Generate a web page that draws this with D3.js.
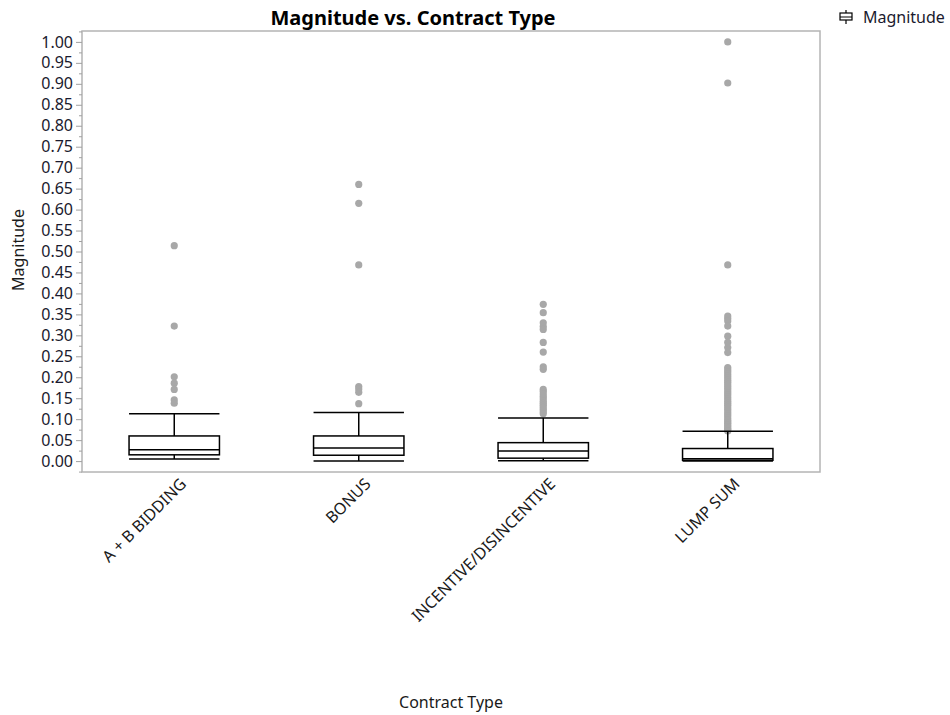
<!DOCTYPE html>
<html>
<head>
<meta charset="utf-8">
<script src="https://cdn.jsdelivr.net/npm/d3@7"></script>
<style>
  html, body { margin: 0; padding: 0; background: #fff; }
  svg { display: block; font-family: "Noto Sans", "Open Sans", sans-serif; }
</style>
</head>
<body>
<svg id="chart" width="950" height="715"></svg>
<script>
// ---------------- data ----------------
const categories = ["A + B BIDDING", "BONUS", "INCENTIVE/DISINCENTIVE", "LUMP SUM"];
const whiskerLow  = [0.005, 0.000, 0.001, 0.000];
const q1          = [0.015, 0.014, 0.007, 0.002];
const median      = [0.027, 0.031, 0.024, 0.0055];
const q3          = [0.060, 0.060, 0.044, 0.030];
const whiskerHigh = [0.113, 0.116, 0.103, 0.071];
const outliersAB = [0.514, 0.322, 0.201, 0.186, 0.171, 0.146, 0.138];
const outliersBonus = [0.660, 0.615, 0.468, 0.178, 0.172, 0.164, 0.137];
const outliersIncentive = [0.374, 0.354, 0.330, 0.321, 0.314, 0.283, 0.260, 0.225, 0.219,
  0.171, 0.166, 0.160, 0.154, 0.149, 0.143, 0.138, 0.133, 0.128, 0.123, 0.118, 0.113];
const outliersLump = [1.000, 0.902, 0.468, 0.346, 0.340, 0.334, 0.322, 0.298, 0.283, 0.271, 0.259,
  0.223, 0.218, 0.213, 0.208, 0.203, 0.198, 0.193, 0.188, 0.183, 0.178, 0.173, 0.168, 0.163,
  0.158, 0.153, 0.148, 0.143, 0.138, 0.133, 0.128, 0.123, 0.118, 0.113, 0.108, 0.103, 0.098,
  0.094, 0.090, 0.086, 0.082, 0.078, 0.075, 0.072];
const outliers = [outliersAB, outliersBonus, outliersIncentive, outliersLump];
const yTickValues = [0, 0.05, 0.10, 0.15, 0.20, 0.25, 0.30, 0.35, 0.40, 0.45, 0.50,
  0.55, 0.60, 0.65, 0.70, 0.75, 0.80, 0.85, 0.90, 0.95, 1.00];
const yMinorTicks = [-0.025, 0.025, 0.075, 0.125, 0.175, 0.225, 0.275, 0.325, 0.375, 0.425, 0.475,
  0.525, 0.575, 0.625, 0.675, 0.725, 0.775, 0.825, 0.875, 0.925, 0.975, 1.025];
const chartTitle = "Magnitude vs. Contract Type";
const xTitle = "Contract Type";
const yTitle = "Magnitude";
const legendLabel = "Magnitude";

// ---------------- layout ----------------
const plot = { left: 82, right: 820, top: 31, bottom: 472 };
const svg = d3.select("#chart");

const x = d3.scaleBand().domain(categories).range([plot.left, plot.right]).padding(0);
const y = d3.scaleLinear().domain([-0.026, 1.026]).range([plot.bottom, plot.top]);

const boxes = categories.map((c, i) => ({
  cat: c, lo: whiskerLow[i], q1: q1[i], med: median[i], q3: q3[i], hi: whiskerHigh[i], out: outliers[i]
}));

// plot frame
svg.append("rect")
  .attr("x", plot.left).attr("y", plot.top)
  .attr("width", plot.right - plot.left).attr("height", plot.bottom - plot.top)
  .attr("fill", "none").attr("stroke", "#b4b4b4").attr("stroke-width", 1.5);

// y axis
const yAxis = d3.axisLeft(y).tickValues(yTickValues).tickFormat(d3.format(".2f")).tickSize(6).tickPadding(3);
const yg = svg.append("g").attr("transform", `translate(${plot.left},0)`).call(yAxis);
yg.select(".domain").remove();
yg.selectAll(".tick line").attr("stroke", "#a0a0a0");
yg.selectAll(".tick text").attr("font-size", 16).attr("fill", "#1a1a2e")
  .attr("font-family", "'Noto Sans', sans-serif");
const yMinor = d3.axisLeft(y).tickValues(yMinorTicks).tickSize(3).tickFormat("");
const ymg = svg.append("g").attr("transform", `translate(${plot.left},0)`).call(yMinor);
ymg.select(".domain").remove();
ymg.selectAll(".tick line").attr("stroke", "#a0a0a0");

// x axis labels
const xAxis = d3.axisBottom(x).tickSize(0).tickPadding(0);
const xg = svg.append("g").attr("transform", `translate(0,${plot.bottom})`).call(xAxis);
xg.select(".domain").remove();
xg.selectAll(".tick text")
  .attr("font-size", 16).attr("fill", "#1a1a1a")
  .attr("font-family", "'Noto Sans', sans-serif")
  .attr("text-anchor", "end")
  .attr("dy", 0)
  .attr("transform", "translate(13,13) rotate(-45)");

// boxes
const bw = x.bandwidth() * 0.49;
const g = svg.append("g");
boxes.forEach(b => {
  const cx = x(b.cat) + x.bandwidth() / 2;
  const gg = g.append("g");
  // outliers
  gg.selectAll("circle").data(b.out).join("circle")
    .attr("cx", cx).attr("cy", d => y(d)).attr("r", 3.6).attr("fill", "#a8a8a8");
  // whiskers
  gg.append("line").attr("x1", cx).attr("x2", cx).attr("y1", y(b.q3)).attr("y2", y(b.hi))
    .attr("stroke", "#000").attr("stroke-width", 1.5);
  gg.append("line").attr("x1", cx).attr("x2", cx).attr("y1", y(b.q1)).attr("y2", y(b.lo))
    .attr("stroke", "#000").attr("stroke-width", 1.5);
  [b.hi, b.lo].forEach(v => {
    gg.append("line").attr("x1", cx - bw / 2).attr("x2", cx + bw / 2).attr("y1", y(v)).attr("y2", y(v))
      .attr("stroke", "#000").attr("stroke-width", 1.5);
  });
  gg.append("rect").attr("x", cx - bw / 2).attr("width", bw)
    .attr("y", y(b.q3)).attr("height", y(b.q1) - y(b.q3))
    .attr("fill", "none").attr("stroke", "#000").attr("stroke-width", 1.5);
  gg.append("line").attr("x1", cx - bw / 2).attr("x2", cx + bw / 2).attr("y1", y(b.med)).attr("y2", y(b.med))
    .attr("stroke", "#000").attr("stroke-width", 1.5);
});

// titles
svg.append("text").attr("x", 413).attr("y", 25).attr("text-anchor", "middle")
  .attr("font-size", 20).attr("font-weight", "bold").attr("fill", "#000").text(chartTitle);
svg.append("text").attr("x", 451).attr("y", 708).attr("text-anchor", "middle")
  .attr("font-size", 16).attr("fill", "#1a1a1a").text(xTitle);
svg.append("text").attr("transform", "translate(24,250) rotate(-90)").attr("text-anchor", "middle")
  .attr("font-size", 16).attr("fill", "#1a1a1a").text(yTitle);

// legend
const lg = svg.append("g").attr("transform", "translate(846,17)");
lg.append("line").attr("x1", 0).attr("x2", 0).attr("y1", -7).attr("y2", 7).attr("stroke", "#000").attr("stroke-width", 1.2);
lg.append("rect").attr("x", -6).attr("y", -4).attr("width", 12).attr("height", 7)
  .attr("fill", "#fff").attr("stroke", "#000").attr("stroke-width", 1.2);
lg.append("line").attr("x1", -6).attr("x2", 6).attr("y1", 0).attr("y2", 0).attr("stroke", "#000").attr("stroke-width", 1);
lg.append("text").attr("x", 17).attr("y", 6).attr("font-size", 16).attr("fill", "#1a1a2e").text(legendLabel);
</script>
</body>
</html>
